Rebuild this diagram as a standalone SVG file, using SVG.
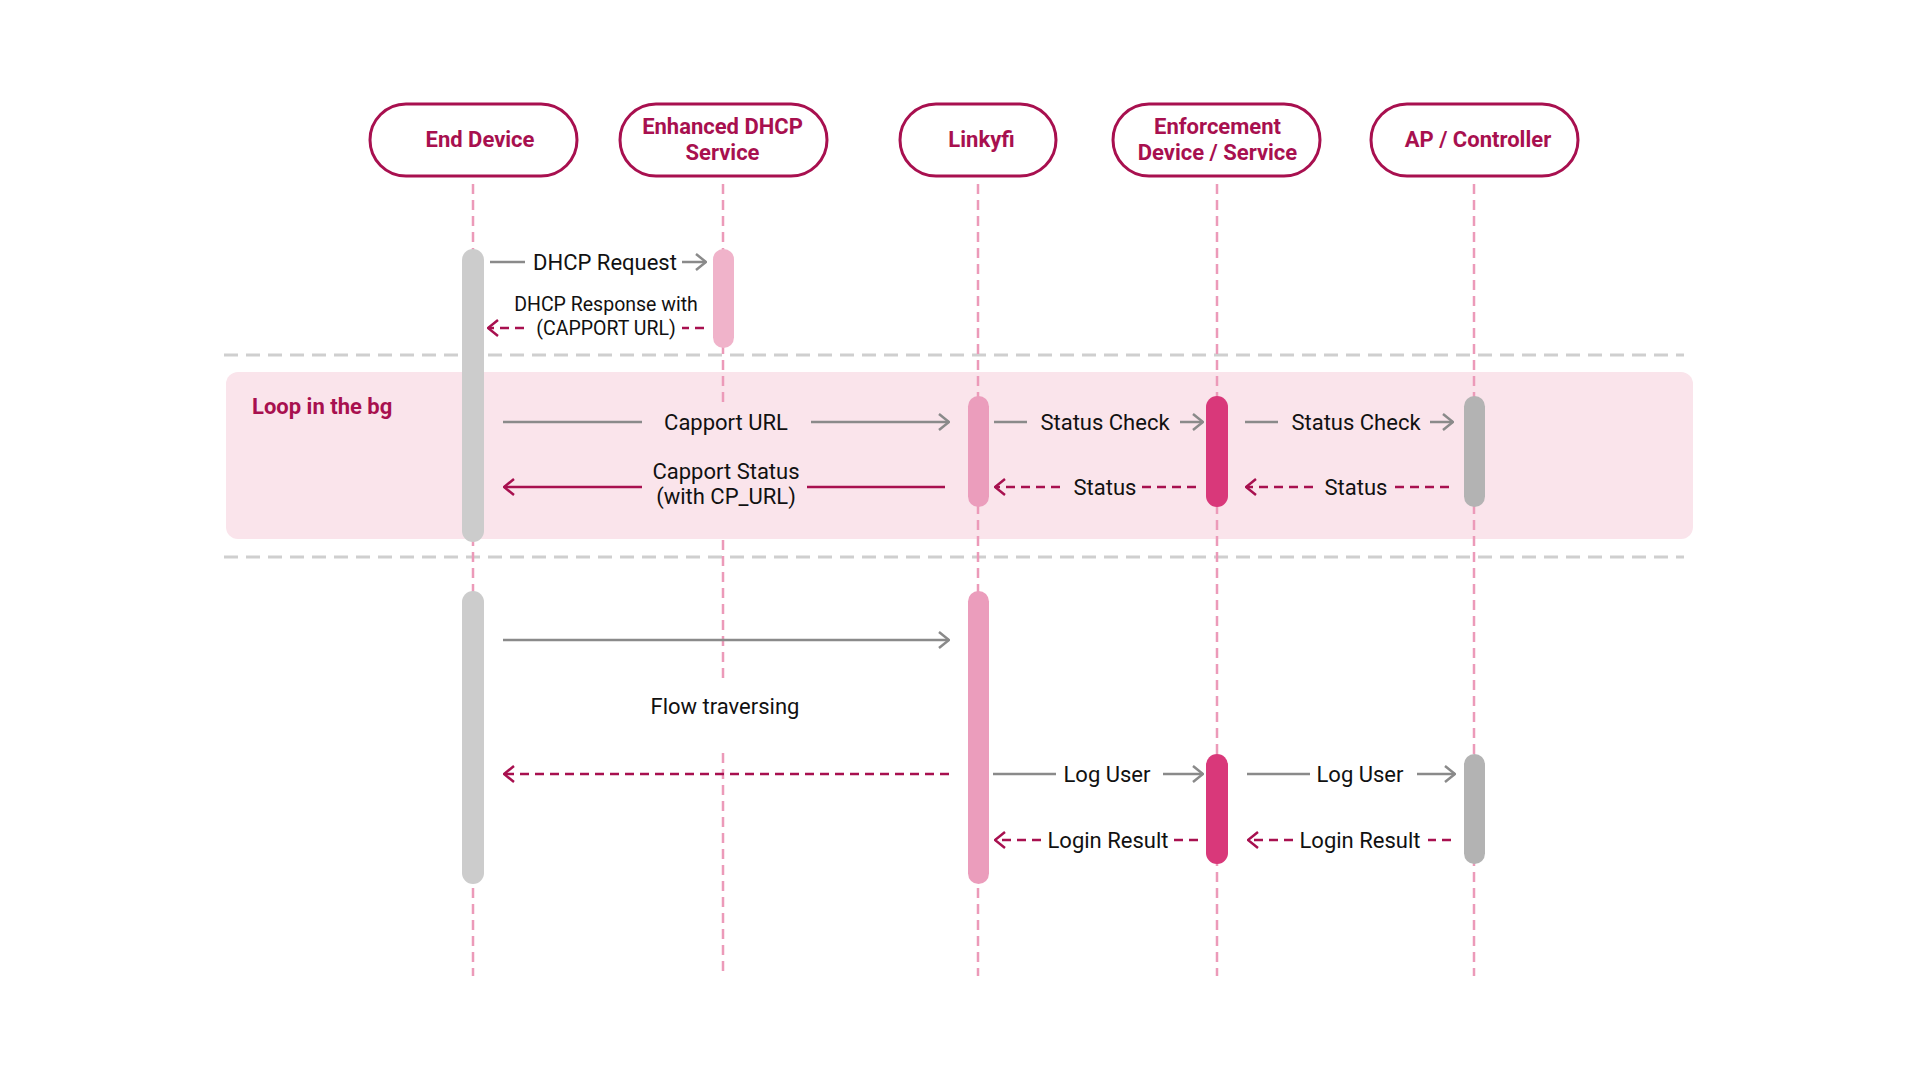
<svg xmlns="http://www.w3.org/2000/svg" width="1920" height="1080" viewBox="0 0 1920 1080">
<style>
.pill{fill:#fff;stroke:#a8104f;stroke-width:3}
.ht{font-family:Roboto,"Liberation Sans",sans-serif;font-weight:700;font-size:22px;fill:#a8104f;text-anchor:middle}
.life{stroke:#ec9ab9;stroke-width:2.5;stroke-dasharray:10 6;fill:none}
.sep{stroke:#cfcfcf;stroke-width:3;stroke-dasharray:14 8;fill:none}
.lbl{font-family:Roboto,"Liberation Sans",sans-serif;font-size:22px;fill:#111;text-anchor:middle}
.sm{font-size:19.5px}
.g{stroke:#8a8a8a;stroke-width:2.5;fill:none}
.r{stroke:#a8104f;stroke-width:2.5;fill:none}
.rd{stroke:#a8104f;stroke-width:2.5;fill:none;stroke-dasharray:9 6}
</style>
<defs>
<marker id="ag" viewBox="0 0 12 18" refX="11" refY="9" markerWidth="12" markerHeight="18" markerUnits="userSpaceOnUse" orient="auto">
<path d="M1,1 L11,9 L1,17" fill="none" stroke="#8a8a8a" stroke-width="2.5" stroke-dasharray="none"/>
</marker>
<marker id="ar" viewBox="0 0 12 18" refX="11" refY="9" markerWidth="12" markerHeight="18" markerUnits="userSpaceOnUse" orient="auto">
<path d="M1,1 L11,9 L1,17" fill="none" stroke="#a8104f" stroke-width="2.5" stroke-dasharray="none"/>
</marker>
</defs>
<rect width="1920" height="1080" fill="#fff"/>

<g id="frames">
<line class="sep" x1="224" y1="355" x2="1684" y2="355"/>
<rect x="226" y="372" width="1467" height="167" rx="12" fill="#fae4eb"/>
<line class="sep" x1="224" y1="557" x2="1684" y2="557"/>
<text x="252" y="414" font-family="Roboto,'Liberation Sans',sans-serif" font-weight="700" font-size="22" fill="#a8104f">Loop in the bg</text>
</g>

<g id="lifelines">
<line class="life" x1="473" y1="184" x2="473" y2="976"/>
<line class="life" x1="723" y1="184" x2="723" y2="404"/>
<line class="life" x1="723" y1="540" x2="723" y2="684"/>
<line class="life" x1="723" y1="753" x2="723" y2="976"/>
<line class="life" x1="978" y1="184" x2="978" y2="976"/>
<line class="life" x1="1217" y1="184" x2="1217" y2="976"/>
<line class="life" x1="1474" y1="184" x2="1474" y2="976"/>
</g>

<g id="end-device">
<rect class="pill" x="370" y="104" width="207" height="72" rx="36"/>
<text class="ht" x="480" y="147">End Device</text>
<rect x="462" y="249" width="22" height="293" rx="11" fill="#cccccc"/>
<rect x="462" y="591" width="22" height="293" rx="11" fill="#cccccc"/>
</g>
<g id="dhcp">
<rect class="pill" x="620" y="104" width="207" height="72" rx="36"/>
<text class="ht" x="722.5" y="134">Enhanced DHCP</text>
<text class="ht" x="722.5" y="160">Service</text>
<rect x="713" y="249" width="21" height="99" rx="10.5" fill="#f0b3ca"/>
</g>
<g id="linkyfi">
<rect class="pill" x="900" y="104" width="156" height="72" rx="36"/>
<text class="ht" x="981.5" y="147">Linkyfi</text>
<rect x="968" y="396" width="21" height="111" rx="10.5" fill="#eb9dbc"/>
<rect x="968" y="591" width="21" height="293" rx="10.5" fill="#eb9dbc"/>
</g>
<g id="enforcement">
<rect class="pill" x="1113" y="104" width="207" height="72" rx="36"/>
<text class="ht" x="1217.5" y="134">Enforcement</text>
<text class="ht" x="1217.5" y="160">Device / Service</text>
<rect x="1206" y="396" width="22" height="111" rx="11" fill="#d9387a"/>
<rect x="1206" y="754" width="22" height="110" rx="11" fill="#d9387a"/>
</g>
<g id="ap">
<rect class="pill" x="1371" y="104" width="207" height="72" rx="36"/>
<text class="ht" x="1478" y="147">AP / Controller</text>
<rect x="1464" y="396" width="21" height="111" rx="10.5" fill="#b3b3b3"/>
<rect x="1464" y="754" width="21" height="110" rx="10.5" fill="#b3b3b3"/>
</g>

<g id="connectors">
<line class="g" x1="490" y1="262" x2="525" y2="262"/>
<line class="g" x1="682" y1="262" x2="706" y2="262" marker-end="url(#ag)"/>
<line class="rd" x1="524" y1="328" x2="488" y2="328" marker-end="url(#ar)"/>
<line class="rd" x1="704" y1="328" x2="682" y2="328"/>

<line class="g" x1="503" y1="422" x2="642" y2="422"/>
<line class="g" x1="811" y1="422" x2="949" y2="422" marker-end="url(#ag)"/>
<line class="r" x1="945" y1="487" x2="807" y2="487"/>
<line class="r" x1="642" y1="487" x2="504" y2="487" marker-end="url(#ar)"/>

<line class="g" x1="994" y1="422" x2="1027" y2="422"/>
<line class="g" x1="1180" y1="422" x2="1203" y2="422" marker-end="url(#ag)"/>
<line class="g" x1="1245" y1="422" x2="1278" y2="422"/>
<line class="g" x1="1430" y1="422" x2="1453" y2="422" marker-end="url(#ag)"/>
<line class="rd" x1="1060" y1="487" x2="995" y2="487" marker-end="url(#ar)"/>
<line class="rd" x1="1196" y1="487" x2="1142" y2="487"/>
<line class="rd" x1="1313" y1="487" x2="1246" y2="487" marker-end="url(#ar)"/>
<line class="rd" x1="1449" y1="487" x2="1393" y2="487"/>

<line class="g" x1="503" y1="640" x2="949" y2="640" marker-end="url(#ag)"/>
<line class="rd" x1="949" y1="774" x2="504" y2="774" marker-end="url(#ar)"/>

<line class="g" x1="993" y1="774" x2="1056" y2="774"/>
<line class="g" x1="1163" y1="774" x2="1203" y2="774" marker-end="url(#ag)"/>
<line class="g" x1="1247" y1="774" x2="1310" y2="774"/>
<line class="g" x1="1417" y1="774" x2="1455" y2="774" marker-end="url(#ag)"/>
<line class="rd" x1="1041" y1="840" x2="995" y2="840" marker-end="url(#ar)"/>
<line class="rd" x1="1198" y1="840" x2="1173" y2="840"/>
<line class="rd" x1="1293" y1="840" x2="1248" y2="840" marker-end="url(#ar)"/>
<line class="rd" x1="1451" y1="840" x2="1428" y2="840"/>
</g>

<g id="labels">
<text class="lbl" x="605" y="270">DHCP Request</text>
<text class="lbl sm" x="606" y="311">DHCP Response with</text>
<text class="lbl sm" x="606" y="335">(CAPPORT URL)</text>
<text class="lbl" x="726" y="430">Capport URL</text>
<text class="lbl" x="726" y="479">Capport Status</text>
<text class="lbl" x="726" y="504">(with CP_URL)</text>
<text class="lbl" x="1105" y="430">Status Check</text>
<text class="lbl" x="1356" y="430">Status Check</text>
<text class="lbl" x="1105" y="495">Status</text>
<text class="lbl" x="1356" y="495">Status</text>
<text class="lbl" x="725" y="714">Flow traversing</text>
<text class="lbl" x="1107" y="782">Log User</text>
<text class="lbl" x="1360" y="782">Log User</text>
<text class="lbl" x="1108" y="848">Login Result</text>
<text class="lbl" x="1360" y="848">Login Result</text>
</g>
</svg>
